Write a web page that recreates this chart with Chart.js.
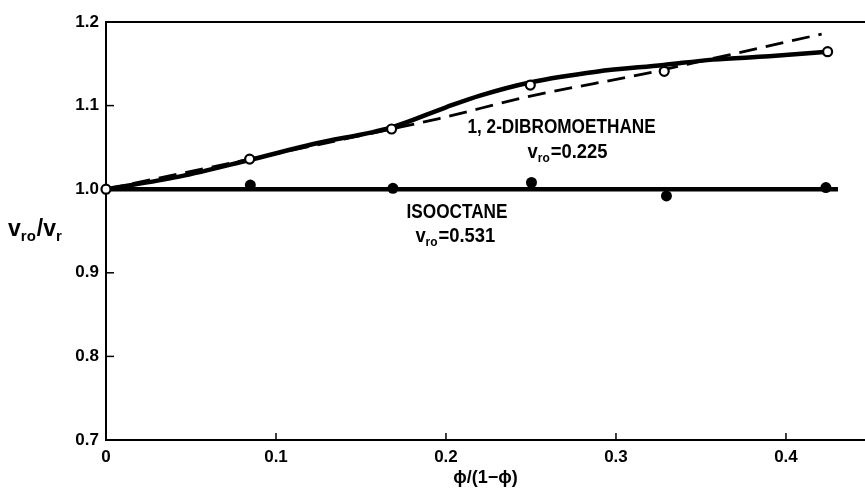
<!DOCTYPE html>
<html><head><meta charset="utf-8">
<script src="https://cdn.jsdelivr.net/npm/chart.js@4"></script>
<style>html,body{margin:0;padding:0;background:#fff}#wrap{width:865px;height:489px}</style>
</head><body><div id="wrap"><canvas id="c" width="865" height="489"></canvas></div>
<script>
// ---- data ----
const dibromoX = [0, 0.0845, 0.168, 0.2496, 0.3284, 0.4245];
const dibromoY = [1.000, 1.036, 1.072, 1.1246, 1.141, 1.1645];
const isoX = [0.0849, 0.1688, 0.2503, 0.3297, 0.4235];
const isoY = [1.005, 1.001, 1.008, 0.992, 1.002];
const dibromoFitX = [0, 0.043, 0.0845, 0.122, 0.168, 0.200, 0.220, 0.250, 0.2885, 0.328, 0.357, 0.390, 0.4245];
const dibromoFitY = [1.000, 1.015, 1.035, 1.054, 1.074, 1.098, 1.112, 1.128, 1.1406, 1.1486, 1.155, 1.159, 1.1645];
const dibromoTheoryX = [0, 0.0845, 0.168, 0.196, 0.249, 0.318, 0.353, 0.421];
const dibromoTheoryY = [1.000, 1.036, 1.072, 1.0845, 1.111, 1.1386, 1.1545, 1.1856];
const isoFitX = [0, 0.4306];
const isoFitY = [1.000, 1.000];
const xTicks = [0, 0.1, 0.2, 0.3, 0.4];
const xTickLabels = ['0', '0.1', '0.2', '0.3', '0.4'];
const yTicks = [0.7, 0.8, 0.9, 1.0, 1.1, 1.2];
const yTickLabels = ['0.7', '0.8', '0.9', '1.0', '1.1', '1.2'];
const xTitle = 'ϕ/(1−ϕ)';
const dibromoName = '1, 2-DIBROMOETHANE';
const dibromoV = '=0.225';
const isoName = 'ISOOCTANE';
const isoV = '=0.531';

const pts = (xs, ys) => xs.map((v, i) => ({x: v, y: ys[i]}));
const TXT = '"Liberation Sans", Arial, sans-serif';

// annotation anchors (data coordinates)
const notes = [
  {kind: 'name', text: dibromoName, x: 0.268, y: 1.0735},
  {kind: 'v', text: dibromoV, x: 0.248, y: 1.044},
  {kind: 'name', text: isoName, x: 0.2065, y: 0.9725},
  {kind: 'v', text: isoV, x: 0.182, y: 0.944}
];

function drawSubV(ctx, x, y, parts, big, small, sx) {
  ctx.save();
  ctx.translate(x, y);
  ctx.scale(sx, 1);
  ctx.textAlign = 'left';
  ctx.textBaseline = 'middle';
  let cx = 0;
  parts.forEach(([t, sub]) => {
    ctx.font = 'bold ' + (sub ? small : big) + 'px ' + TXT;
    ctx.fillText(t, cx, sub ? big * 0.3 : 0);
    cx += ctx.measureText(t).width + (sub ? 1 : 0);
  });
  ctx.restore();
}

const frame = {
  id: 'frame',
  beforeDatasetsDraw(chart) {
    const {ctx, chartArea: a, scales: {x, y}} = chart;
    ctx.save();
    ctx.strokeStyle = '#000';
    ctx.lineWidth = 2;
    ctx.beginPath(); ctx.moveTo(a.left, a.top); ctx.lineTo(a.right, a.top); ctx.stroke();
    ctx.lineWidth = 1.5;
    yTicks.forEach(v => {
      const py = y.getPixelForValue(v);
      ctx.beginPath(); ctx.moveTo(a.left, py); ctx.lineTo(a.left + 8, py); ctx.stroke();
    });
    xTicks.forEach(v => {
      const px = x.getPixelForValue(v);
      ctx.beginPath(); ctx.moveTo(px, a.bottom); ctx.lineTo(px, a.bottom - 7); ctx.stroke();
    });
    ctx.restore();
  },
  afterDraw(chart) {
    const {ctx, scales: {x, y}} = chart;
    ctx.save();
    ctx.fillStyle = '#000';
    notes.forEach(n => {
      const px = x.getPixelForValue(n.x), py = y.getPixelForValue(n.y);
      if (n.kind === 'name') {
        ctx.save();
        ctx.translate(px, py);
        ctx.scale(0.86, 1);
        ctx.font = 'bold 20px ' + TXT;
        ctx.textAlign = 'center';
        ctx.textBaseline = 'middle';
        ctx.fillText(n.text, 0, 0);
        ctx.restore();
      } else {
        drawSubV(ctx, px, py, [['v', false], ['ro', true], [n.text, false]], 20, 13, 0.92);
      }
    });
    // y-axis title, horizontal
    drawSubV(ctx, 8, 230, [['v', false], ['ro', true], ['/v', false], ['r', true]], 23, 15, 1.0);
    ctx.restore();
  }
};

new Chart(document.getElementById('c'), {
  type: 'scatter',
  data: {
    datasets: [
      {data: pts(dibromoX, dibromoY), showLine: false, clip: false, pointRadius: 4.5, pointBackgroundColor: '#fff', pointBorderColor: '#000', pointBorderWidth: 2.2, order: 0},
      {data: pts(isoX, isoY), showLine: false, clip: false, pointRadius: 5.5, pointBackgroundColor: '#000', pointBorderColor: '#000', pointBorderWidth: 0, order: 1},
      {data: pts(dibromoFitX, dibromoFitY), showLine: true, pointRadius: 0, borderColor: '#000', borderWidth: 4.5, cubicInterpolationMode: 'monotone', order: 2},
      {data: pts(dibromoTheoryX, dibromoTheoryY), showLine: true, pointRadius: 0, borderColor: '#000', borderWidth: 2.8, borderDash: [18, 9], cubicInterpolationMode: 'monotone', order: 3},
      {data: pts(isoFitX, isoFitY), showLine: true, pointRadius: 0, borderColor: '#000', borderWidth: 4.5, order: 4}
    ]
  },
  options: {
    responsive: false,
    animation: false,
    devicePixelRatio: 1,
    layout: {autoPadding: false, padding: {top: 22, right: 0, bottom: 0, left: 0}},
    plugins: {legend: {display: false}, tooltip: {enabled: false}},
    scales: {
      x: {
        type: 'linear', min: 0, max: 0.4465,
        afterBuildTicks: s => { s.ticks = xTicks.map(v => ({value: v})); },
        afterFit: s => { s.height = 49; s.paddingRight = 0; s.paddingLeft = 0; },
        border: {display: true, color: '#000', width: 2},
        grid: {drawOnChartArea: false, drawTicks: false, color: 'rgba(0,0,0,0)'},
        ticks: {color: '#000', font: {family: TXT, size: 17, weight: 'bold'}, padding: 7, maxRotation: 0,
          callback: (v, i) => xTickLabels[i]},
        title: {display: true, text: xTitle, color: '#000', font: {family: TXT, size: 18, weight: 'bold'}, padding: {top: 0, bottom: 0}}
      },
      y: {
        type: 'linear', min: 0.7, max: 1.2,
        afterBuildTicks: s => { s.ticks = yTicks.map(v => ({value: v})); },
        afterFit: s => { s.width = 106; s.paddingTop = 0; s.paddingBottom = 0; },
        border: {display: true, color: '#000', width: 2},
        grid: {drawOnChartArea: false, drawTicks: false, color: 'rgba(0,0,0,0)'},
        ticks: {color: '#000', font: {family: TXT, size: 17, weight: 'bold'}, padding: 7,
          callback: (v, i) => yTickLabels[i]}
      }
    }
  },
  plugins: [frame]
});
</script>
</body></html>
